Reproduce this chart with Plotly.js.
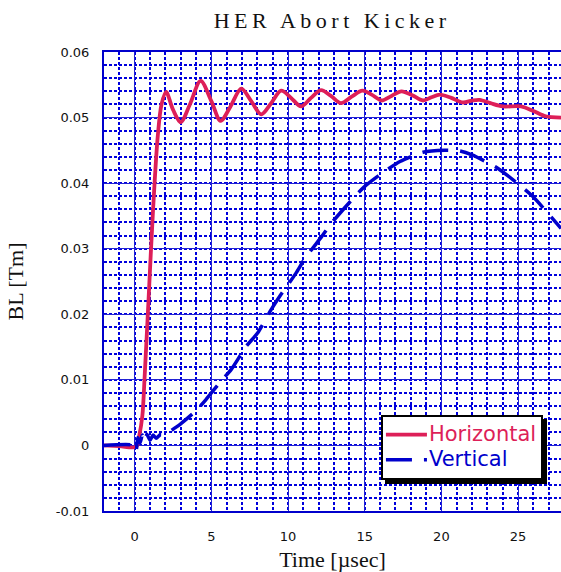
<!DOCTYPE html>
<html>
<head>
<meta charset="utf-8">
<script src="https://cdn.plot.ly/plotly-3.0.1.min.js"></script>
<style>
  html, body { margin: 0; padding: 0; background: #ffffff; }
  #chart { width: 561px; height: 572px; }
</style>
</head>
<body>
<div id="chart"></div>
<script>
// ---- data ----
const timeHorizontal = [-2, -1, 0.1, 0.3, 0.5, 0.65, 0.9, 1.2, 1.5, 1.75, 2.05, 2.5, 3.0, 3.6, 4.3, 5.0, 5.6, 6.25, 6.95, 7.6, 8.25, 8.9, 9.55, 10.2, 10.85, 11.5, 12.15, 12.8, 13.45, 14.15, 14.85, 15.45, 16.1, 16.75, 17.4, 18.1, 18.8, 19.35, 19.9, 20.65, 21.4, 22.0, 22.5, 23.2, 24.0, 25.2, 26.0, 26.8, 27.8];
const blHorizontal = [0, -0.0001, -0.0002, 0.0015, 0.0045, 0.0105, 0.022, 0.036, 0.047, 0.052, 0.0539, 0.0512, 0.0493, 0.052, 0.0556, 0.0525, 0.0495, 0.0517, 0.0544, 0.0525, 0.0505, 0.0522, 0.0541, 0.053, 0.0517, 0.053, 0.0542, 0.0533, 0.0522, 0.0532, 0.0541, 0.0535, 0.0526, 0.0533, 0.054, 0.0534, 0.0526, 0.0531, 0.0535, 0.053, 0.0523, 0.0526, 0.0527, 0.0522, 0.0517, 0.0517, 0.051, 0.0502, 0.0500];

const timeVertical = [-2, 0.0, 0.1, 0.2, 0.35, 0.5, 0.65, 0.8, 1.0, 1.2, 1.4, 1.7, 2.0, 2.4, 3.0, 4.0, 4.65, 5.63, 6.3, 7.27, 8.0, 8.9, 9.45, 10.5, 11.1, 12.18, 12.83, 14.14, 14.95, 16.0, 17.3, 18.8, 20.2, 21.2, 22.0, 23.6, 24.3, 25.9, 27.8];
const blVertical = [0, 0, -0.0008, 0.0012, 0.0004, 0.0016, 0.0006, 0.0017, 0.0008, 0.0016, 0.0011, 0.0017, 0.0016, 0.0023, 0.0033, 0.0053, 0.0070, 0.0098, 0.0116, 0.0151, 0.0171, 0.0207, 0.0227, 0.0262, 0.0285, 0.0318, 0.0339, 0.0374, 0.0394, 0.0413, 0.0433, 0.0447, 0.0450, 0.0449, 0.0443, 0.0424, 0.0412, 0.0381, 0.0331];

const seriesNames = ['Horizontal', 'Vertical'];
const yTickVals = [-0.01, 0, 0.01, 0.02, 0.03, 0.04, 0.05, 0.06];
const yTickText = ['-0.01', '0', '0.01', '0.02', '0.03', '0.04', '0.05', '0.06'];
const xTickVals = [0, 5, 10, 15, 20, 25];
const xTickText = ['0', '5', '10', '15', '20', '25'];

// ---- styles ----
const red = '#dd1f58';
const blue = '#0000cc';
const gridBlue = '#2222d4';
const minorBlue = '#0000dd';

function legendName(txt, col) {
  return '<span style="color:' + col + ';font-size:21px">' + txt + '</span>';
}

const traces = [
  {
    x: timeHorizontal, y: blHorizontal, type: 'scatter', mode: 'lines',
    name: legendName(seriesNames[0], red),
    line: { color: red, width: 3.8, shape: 'spline', smoothing: 0.9 }
  },
  {
    x: timeVertical, y: blVertical, type: 'scatter', mode: 'lines',
    name: legendName(seriesNames[1], blue),
    line: { color: blue, width: 3.5, dash: '26px,12px', shape: 'spline', smoothing: 0.6 }
  }
];

const layout = {
  width: 561, height: 572,
  margin: { l: 104, r: 0, t: 52, b: 61 },
  paper_bgcolor: '#ffffff', plot_bgcolor: '#ffffff',
  showlegend: true,
  title: {
    text: 'HER Abort Kicker',
    font: { family: 'Liberation Serif, Times New Roman, serif', size: 22, color: '#111' },
    x: 0.592, xanchor: 'center', y: 0.965, yanchor: 'middle'
  },
  xaxis: {
    range: [-2, 27.8],
    tickmode: 'array', tickvals: xTickVals, ticktext: xTickText,
    ticks: '', ticklabelstandoff: 12,
    tickfont: { family: 'DejaVu Sans, sans-serif', size: 13, color: '#111' },
    showgrid: true, gridcolor: gridBlue, gridwidth: 1,
    zeroline: false,
    showline: true, mirror: true, linecolor: blue, linewidth: 2,
    minor: { tickmode: 'linear', tick0: 0, dtick: 1, showgrid: true, gridcolor: minorBlue, gridwidth: 2, griddash: '3px,2px' },
    title: { text: 'Time [µsec]', standoff: 12, font: { family: 'Liberation Serif, Times New Roman, serif', size: 22, color: '#111' } }
  },
  yaxis: {
    range: [-0.01, 0.06],
    tickmode: 'array', tickvals: yTickVals, ticktext: yTickText,
    ticks: '', ticklabelstandoff: 10,
    tickfont: { family: 'DejaVu Sans, sans-serif', size: 13, color: '#111' },
    showgrid: true, gridcolor: gridBlue, gridwidth: 1,
    zeroline: false,
    showline: true, mirror: true, linecolor: blue, linewidth: 2,
    minor: { tickmode: 'linear', tick0: 0, dtick: 0.002, showgrid: true, gridcolor: minorBlue, gridwidth: 2, griddash: '3px,2px' },
    title: { text: 'BL [Tm]', standoff: 26, font: { family: 'Liberation Serif, Times New Roman, serif', size: 22, color: '#111' } }
  },
  legend: {
    x: 0.606, y: 0.209, xanchor: 'left', yanchor: 'top',
    bgcolor: '#ffffff', bordercolor: '#000000', borderwidth: 2,
    font: { family: 'DejaVu Sans, sans-serif', size: 17 },
    tracegroupgap: 0, itemwidth: 40
  }
};

Plotly.newPlot('chart', traces, layout, { displayModeBar: false, staticPlot: true }).then(function () {
  // widen title letter spacing like the reference
  const t = document.querySelector('.gtitle');
  if (t) t.style.letterSpacing = '4.5px';
  // longer legend line samples, as in the reference
  document.querySelectorAll('.legend .legendlines path').forEach(function (p) {
    p.setAttribute('d', 'M3,0h41');
  });
  // pull legend texts slightly left
  document.querySelectorAll('.legend .legendtext').forEach(function (tx) {
    const xv = parseFloat(tx.getAttribute('x') || '0');
    tx.setAttribute('x', xv - 4);
  });
  // drop shadow behind legend box
  const bg = document.querySelector('.legend rect.bg');
  if (bg) {
    const w = parseFloat(bg.getAttribute('width'));
    bg.setAttribute('width', w - 5);
    const sh = bg.cloneNode(true);
    sh.setAttribute('class', 'legend-shadow');
    sh.style.fill = '#000';
    sh.style.stroke = '#000';
    const tr = bg.getAttribute('transform') || '';
    sh.setAttribute('transform', tr + ' translate(4,4)');
    bg.parentNode.insertBefore(sh, bg);
  }
});
</script>
</body>
</html>
